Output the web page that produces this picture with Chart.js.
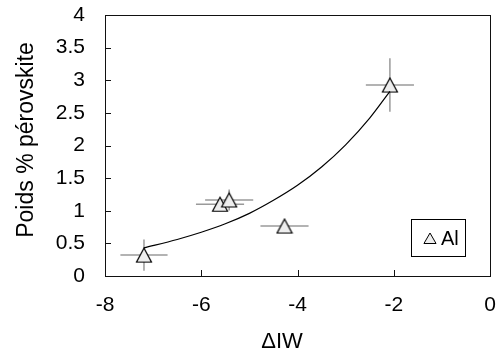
<!DOCTYPE html>
<html>
<head>
<meta charset="utf-8">
<script src="https://cdn.jsdelivr.net/npm/chart.js@4"></script>
<style>
  html, body { margin: 0; padding: 0; background: #fff; }
  #wrap { width: 500px; height: 355px; }
</style>
</head>
<body>
<div id="wrap"><canvas id="perovChart"></canvas></div>
<script>
// measured points (Al)
const deltaIW = [-7.19, -5.61, -5.42, -4.27, -2.08];
const perovskite = [0.32, 1.10, 1.165, 0.766, 2.927];
const errX = [0.49, 0.5, 0.5, 0.5, 0.5];
const errY = [0.24, 0.08, 0.16, 0.05, 0.41];

// fitted curve
const fitX = [-7.19, -6.5, -6.0, -5.5, -5.0, -4.5, -4.0, -3.5, -3.0, -2.5, -2.08];
const fitY = [0.43, 0.56, 0.67, 0.80, 0.96, 1.16, 1.39, 1.67, 2.01, 2.42, 2.83];

const xTicks = [-8, -6, -4, -2, 0];
const yTicks = [0, 0.5, 1, 1.5, 2, 2.5, 3, 3.5, 4];

const FONT = '"Liberation Sans", Arial, Helvetica, sans-serif';

// triangle marker centred on its bounding box, like the original
function triangleMarker(w, h) {
  const c = document.createElement('canvas');
  c.width = w + 3; c.height = h + 3;
  const g = c.getContext('2d');
  g.beginPath();
  g.moveTo(c.width / 2, 1.5);
  g.lineTo(c.width - 1.5, h + 1.5);
  g.lineTo(1.5, h + 1.5);
  g.closePath();
  g.fillStyle = '#eeeeee';
  g.fill();
  g.lineWidth = 1.2;
  g.strokeStyle = '#000';
  g.stroke();
  return c;
}

// error bars behind the markers
const errorBars = {
  id: 'errorBars',
  beforeDatasetsDraw(chart) {
    const {ctx, scales: {x, y}} = chart;
    ctx.save();
    ctx.strokeStyle = '#9a9a9a';
    ctx.lineWidth = 1.5;
    deltaIW.forEach((v, i) => {
      const px = x.getPixelForValue(v), py = y.getPixelForValue(perovskite[i]);
      ctx.beginPath();
      ctx.moveTo(x.getPixelForValue(v - errX[i]), py);
      ctx.lineTo(x.getPixelForValue(v + errX[i]), py);
      ctx.moveTo(px, y.getPixelForValue(perovskite[i] - errY[i]));
      ctx.lineTo(px, y.getPixelForValue(perovskite[i] + errY[i]));
      ctx.stroke();
    });
    ctx.restore();
  }
};

// box frame, inward ticks, axis titles and legend
const frame = {
  id: 'frame',
  afterDraw(chart) {
    const {ctx, chartArea: a, scales: {x, y}} = chart;
    ctx.save();
    ctx.strokeStyle = '#111';
    ctx.lineWidth = 1;
    ctx.strokeRect(Math.round(a.left) + 0.5, Math.round(a.top) + 0.5,
      Math.round(a.right - a.left), Math.round(a.bottom - a.top));
    ctx.beginPath();
    xTicks.slice(1, -1).forEach(t => {
      const px = Math.round(x.getPixelForValue(t)) + 0.5;
      ctx.moveTo(px, a.bottom);
      ctx.lineTo(px, a.bottom - 6);
    });
    yTicks.slice(1, -1).forEach(t => {
      const py = Math.round(y.getPixelForValue(t)) + 0.5;
      ctx.moveTo(a.left, py);
      ctx.lineTo(a.left + 6, py);
    });
    ctx.stroke();

    // axis titles
    ctx.fillStyle = '#000';
    ctx.font = '22px ' + FONT;
    ctx.textAlign = 'center';
    ctx.textBaseline = 'middle';
    ctx.fillText('ΔIW', 282, 342);
    ctx.save();
    ctx.translate(27, 140);
    ctx.rotate(-Math.PI / 2);
    ctx.font = '23px ' + FONT;
    ctx.fillText('Poids % pérovskite', 0, 0);
    ctx.restore();

    // legend
    ctx.fillStyle = '#fff';
    ctx.fillRect(411, 219, 54, 37);
    ctx.strokeStyle = '#000';
    ctx.strokeRect(411.5, 219.5, 54, 37);
    const cx = 430, cy = 240, r = 7;
    ctx.beginPath();
    ctx.moveTo(cx, cy - r);
    ctx.lineTo(cx + r * 0.866, cy + r * 0.5);
    ctx.lineTo(cx - r * 0.866, cy + r * 0.5);
    ctx.closePath();
    ctx.fillStyle = '#eeeeee';
    ctx.fill();
    ctx.stroke();
    ctx.fillStyle = '#000';
    ctx.font = '20px ' + FONT;
    ctx.textAlign = 'left';
    ctx.textBaseline = 'alphabetic';
    ctx.fillText('Al', 441, 245);
    ctx.restore();
  }
};

function noLabelPadding(s) {
  s.paddingTop = 0; s.paddingBottom = 0; s.paddingLeft = 0; s.paddingRight = 0;
}

const ctx = document.getElementById('perovChart').getContext('2d');
const perovChart = new Chart(ctx, {
  type: 'scatter',
  data: {
    datasets: [{
      label: 'fit',
      type: 'line',
      data: fitX.map((v, i) => ({x: v, y: fitY[i]})),
      borderColor: '#000',
      borderWidth: 1.2,
      pointRadius: 0,
      tension: 0.4,
      cubicInterpolationMode: 'monotone',
      fill: false
    }, {
      label: 'Al',
      data: deltaIW.map((v, i) => ({x: v, y: perovskite[i]})),
      pointStyle: triangleMarker(15, 14),
      pointRadius: 9
    }]
  },
  options: {
    responsive: true,
    maintainAspectRatio: false,
    animation: false,
    layout: { padding: { top: 15, right: 7, left: 0, bottom: 0 } },
    plugins: { legend: { display: false }, tooltip: { enabled: false } },
    scales: {
      x: {
        type: 'linear',
        min: -8, max: 0,
        afterBuildTicks: s => { s.ticks = xTicks.map(v => ({value: v})); },
        afterFit: s => { s.height = 79; noLabelPadding(s); },
        grid: { display: false, drawTicks: false },
        border: { display: false },
        ticks: { color: '#000', padding: 17, font: { family: FONT, size: 21 },
          callback: v => String(v) }
      },
      y: {
        type: 'linear',
        min: 0, max: 4,
        afterBuildTicks: s => { s.ticks = yTicks.map(v => ({value: v})); },
        afterFit: s => { s.width = 105; noLabelPadding(s); },
        grid: { display: false, drawTicks: false },
        border: { display: false },
        ticks: { color: '#000', padding: 20, font: { family: FONT, size: 21 },
          callback: v => String(v) }
      }
    }
  },
  plugins: [errorBars, frame]
});
</script>
</body>
</html>
